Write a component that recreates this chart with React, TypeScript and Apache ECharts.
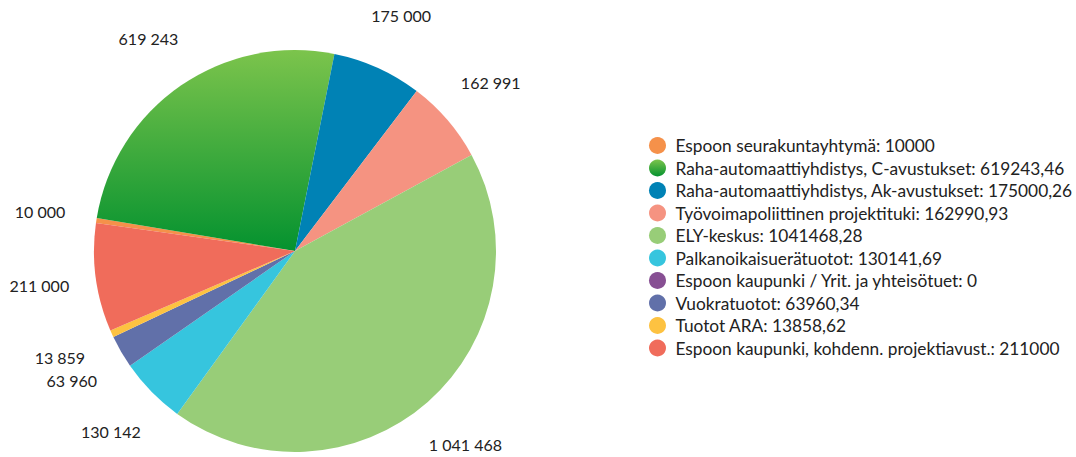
import React, { useEffect, useRef } from "react";
import * as echarts from "echarts";

const categories = [
  "Espoon seurakuntayhtymä",
  "Raha-automaattiyhdistys, C-avustukset",
  "Raha-automaattiyhdistys, Ak-avustukset",
  "Työvoimapoliittinen projektituki",
  "ELY-keskus",
  "Palkanoikaisuerätuotot",
  "Espoon kaupunki / Yrit. ja yhteisötuet",
  "Vuokratuotot",
  "Tuotot ARA",
  "Espoon kaupunki, kohdenn. projektiavust.",
];
const values = [
  10000, 619243.46, 175000.26, 162990.93, 1041468.28, 130141.69, 0, 63960.34,
  13858.62, 211000,
];
const colors: any[] = [
  "#f5914a",
  {
    type: "linear",
    x: 0,
    y: 0,
    x2: 0,
    y2: 1,
    colorStops: [
      { offset: 0, color: "#7cc44c" },
      { offset: 1, color: "#04922f" },
    ],
  },
  "#0082b5",
  "#f59381",
  "#98cd78",
  "#36c5de",
  "#874f93",
  "#6170a9",
  "#fdc241",
  "#f06c5b",
];

const FONT = "Lato";
const CENTER = [295, 251];
const START = 172;

function spaced(v: number): string {
  return String(Math.round(v)).replace(/\B(?=(\d{3})+(?!\d))/g, " ");
}

export default function App() {
  const ref = useRef<HTMLDivElement>(null);
  useEffect(() => {
    if (!ref.current) return;
    const chart = echarts.init(ref.current, undefined, { renderer: "svg" });
    const data = categories.map((name, i) => ({
      name,
      value: values[i],
      itemStyle: { color: colors[i] },
    }));
    const valueMap: Record<string, number> = {};
    categories.forEach((c, i) => (valueMap[c] = values[i]));
    chart.setOption({
      animation: false,
      legend: {
        orient: "vertical",
        left: 644,
        top: 132,
        icon: "circle",
        itemWidth: 26,
        itemHeight: 17,
        itemGap: 5.5,
        data: categories,
        textStyle: { fontFamily: FONT, fontSize: 17.3, color: "#222" },
        formatter: (name: string) =>
          name + ": " + String(valueMap[name]).replace(".", ","),
      },
      series: [
        {
          type: "pie",
          center: CENTER,
          radius: 201,
          startAngle: START,
          clockwise: true,
          data,
          label: { show: false },
          labelLine: { show: false },
          emphasis: { disabled: true },
          itemStyle: { borderWidth: 0 },
        },
        {
          type: "pie",
          center: CENTER,
          radius: [250, 260],
          startAngle: START,
          clockwise: true,
          silent: true,
          data: categories.map((name, i) => ({ name, value: values[i] })),
          itemStyle: { color: "transparent" },
          label: {
            show: true,
            position: "inside",
            fontFamily: FONT,
            fontSize: 16,
            color: "#222",
            formatter: (p: any) => (p.value ? spaced(p.value) : ""),
          },
          labelLine: { show: false },
          emphasis: { disabled: true },
        },
      ],
    });
    return () => chart.dispose();
  }, []);
  return (
    <div
      ref={ref}
      style={{ position: "fixed", left: 0, top: 0, width: 1076, height: 457, background: "#fff" }}
    />
  );
}
